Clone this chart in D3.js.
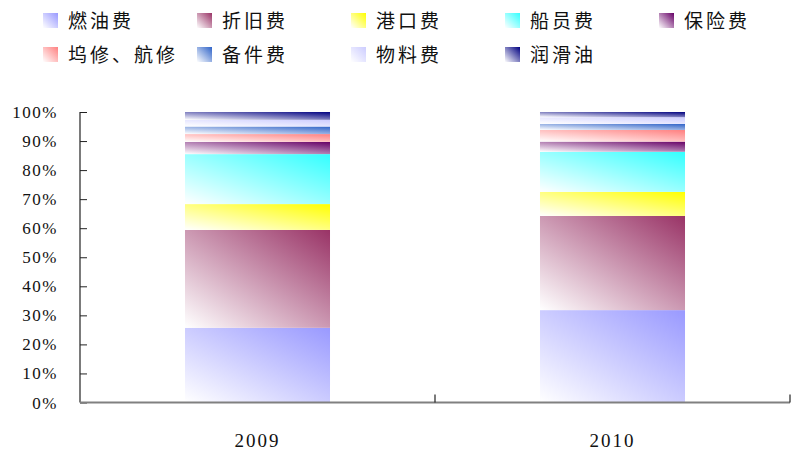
<!DOCTYPE html>
<html><head><meta charset="utf-8">
<script src="https://cdn.jsdelivr.net/npm/d3@7"></script>
<style>body{margin:0;background:#fff}</style>
</head><body>
<svg id="c" width="795" height="455"></svg>
<script>
const years = ["2009", "2010"];
const seriesNames = ["燃油费","折旧费","港口费","船员费","保险费","坞修、航修","备件费","物料费","润滑油"];
const seriesColors = ["#9999FF","#993366","#FFFF00","#33FFFF","#660066","#FF8080","#2F63C8","#CCCCFF","#000080"];
const values2009 = [25.7, 33.7, 8.9, 17.2, 4.2, 2.7, 2.6, 2.3, 2.7];
const values2010 = [31.8, 32.4, 8.3, 13.8, 3.5, 4.0, 2.1, 2.3, 1.8];
const yTicks = [0,10,20,30,40,50,60,70,80,90,100];

const svg = d3.select("#c");
const defs = svg.append("defs");
seriesColors.forEach((c,i)=>{
  const g = defs.append("linearGradient").attr("id","g"+i)
    .attr("x1",0).attr("y1",1).attr("x2",1).attr("y2",0);
  g.append("stop").attr("offset",0).attr("stop-color","#ffffff");
  g.append("stop").attr("offset",1).attr("stop-color",c);
});

const x = d3.scaleBand().domain(years).range([80,790]).paddingInner(0.5915).paddingOuter(0.29575);
const xAxisBand = d3.scaleBand().domain(years).range([80,790]);
const y = d3.scaleLinear().domain([0,100]).range([402.5,112]);

const table = years.map((yr,j)=>{
  const vals = j===0 ? values2009 : values2010;
  let acc = 0;
  return vals.map((v,i)=>{ const s = {yr, i, y0:acc, y1:acc+v}; acc += v; return s; });
});

const bars = svg.append("g");
table.forEach(stack=>{
  bars.selectAll(null).data(stack).enter().append("rect")
    .attr("x", d=>x(d.yr))
    .attr("width", x.bandwidth())
    .attr("y", d=>y(d.y1))
    .attr("height", d=>y(d.y0)-y(d.y1))
    .attr("fill", d=>"url(#g"+d.i+")");
});

// Y axis
const yAxis = svg.append("g").attr("transform","translate(80,0)")
  .call(d3.axisRight(y).tickValues(yTicks).tickSize(7).tickFormat(""));
yAxis.select(".domain").attr("d","M0,"+y(100)+"V"+y(0)).attr("stroke","#222").attr("stroke-width",1.2);
yAxis.selectAll(".tick line").attr("stroke","#222");
svg.append("g").selectAll("text").data(yTicks).enter().append("text")
  .attr("x",58).attr("y",d=>y(d)+6).attr("text-anchor","end")
  .attr("font-family","'Liberation Serif', serif").attr("font-size",17)
  .attr("letter-spacing",1.5).attr("fill","#111")
  .text(d=>d+"%");

// X axis
const xg = svg.append("g").attr("transform","translate(0,402.5)");
xg.append("line").attr("x1",80).attr("x2",790).attr("y1",0).attr("y2",0)
  .attr("stroke","#808080").attr("stroke-width",2);
const boundaries = years.map(d=>xAxisBand(d)+xAxisBand.bandwidth());
xg.selectAll("line.t").data(boundaries).enter().append("line").attr("class","t")
  .attr("x1",d=>d).attr("x2",d=>d).attr("y1",0).attr("y2",-8)
  .attr("stroke","#222").attr("stroke-width",1.2);
svg.append("g").selectAll("text").data(years).enter().append("text")
  .attr("x",d=>x(d)+x.bandwidth()/2).attr("y",447).attr("text-anchor","middle")
  .attr("font-family","'Liberation Serif', serif").attr("font-size",19)
  .attr("letter-spacing",2).attr("fill","#111")
  .text(d=>d);

// Legend
const leg = svg.append("g");
seriesNames.forEach((n,i)=>{
  const col = i<5 ? i : i-5, row = i<5 ? 0 : 1;
  const lx = 43 + col*154, ly = 13 + row*34;
  leg.append("rect").attr("x",lx).attr("y",ly).attr("width",15).attr("height",15)
    .attr("fill","url(#g"+i+")");
  leg.append("text").attr("x",lx+25).attr("y",ly+15)
    .attr("font-family","'Noto Sans CJK SC', sans-serif").attr("font-size",19)
    .attr("letter-spacing",3).attr("fill","#111").text(n);
});
</script>
</body></html>
